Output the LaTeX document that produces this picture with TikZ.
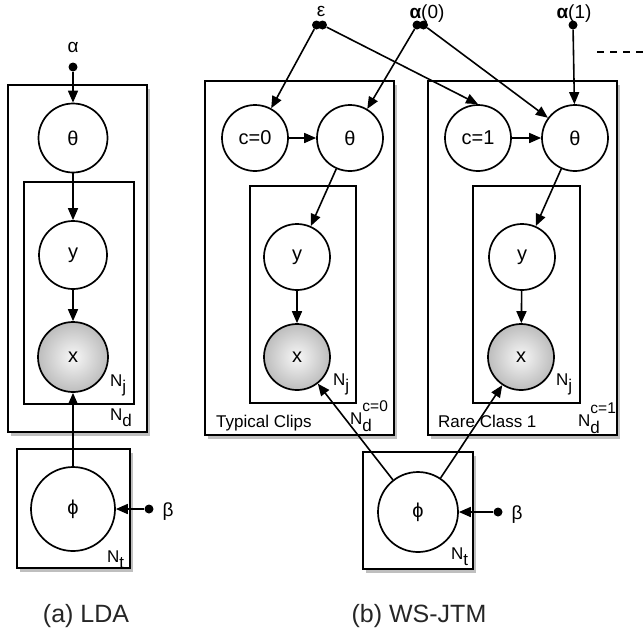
\documentclass[tikz,border=0pt]{standalone}
\usepackage{fontspec}
\setmainfont{Liberation Sans}
\usetikzlibrary{arrows.meta,shadows}
\newcommand\Nsb[1]{N\raisebox{-6pt}{#1}}
\newcommand\Nsbsp[2]{N\rlap{\raisebox{13pt}{\fontsize{15.5}{15.5}\selectfont #2}}\raisebox{-7pt}{#1}}
\begin{document}
\begin{tikzpicture}[x=1pt,y=-1pt,
  var/.style={circle,draw,line width=1.7pt,inner sep=0pt,fill=white,font=\fontsize{20}{20}\selectfont},
  obs/.style={circle,draw,line width=1.7pt,inner sep=0pt,shading=radial,inner color=gray!6,outer color=gray!52,font=\fontsize{20}{20}\selectfont},
  hyper/.style={circle,fill=black,inner sep=0pt,minimum size=9pt},
  plate/.style={draw,line width=1.6pt,fill=white,drop shadow={shadow xshift=2.5pt,shadow yshift=-4pt,opacity=0.5}},
  inplate/.style={draw,line width=1.6pt},
  edge/.style={-{Triangle[length=12pt,width=10pt]},line width=1.6pt},
  lbl/.style={inner sep=0pt,anchor=base west,font=\fontsize{17}{17}\selectfont},
  toplab/.style={inner sep=0pt,anchor=base,font=\fontsize{19}{19}\selectfont},
  captxt/.style={inner sep=0pt,anchor=base,text=black!85,font=\fontsize{25}{25}\selectfont}]
\fill[white] (0,0) rectangle (644,633);
\path[use as bounding box] (0,0) rectangle (644,633);

% ---------- (a) LDA ----------
\draw[plate] (8,85) rectangle (147,432);
\draw[inplate] (24,182) rectangle (134,404);
\draw[plate] (17,449) rectangle (130,568);
\node[toplab] (alpha) at (73,52) {α};
\node[hyper] (adot) at (73,67) {};
\node[var,minimum size=69pt] (th) at (73,138) {θ};
\node[var,minimum size=68pt] (y) at (73,255) {y};
\node[obs,minimum size=70pt] (x) at (73,357) {x};
\node[var,minimum size=84pt] (phi) at (73,509) {ϕ};
\node[hyper] (bdot) at (149,509) {};
\node[toplab] (beta) at (168,516) {β};
\node[lbl] (nj) at (110,386) {\Nsb{j}};
\node[lbl] (nd) at (110,420) {\Nsb{d}};
\node[lbl] (nt) at (107,562) {\Nsb{t}};
\draw[edge] (adot) -- (th);
\draw[edge] (th) -- (y);
\draw[edge] (y) -- (x);
\draw[edge] (phi) -- (x);
\draw[edge] (bdot) -- (phi);
\node[captxt] (capa) at (86,622) {(a) LDA};

% ---------- (b) WS-JTM ----------
\draw[plate] (205,81) rectangle (394,435);
\draw[inplate] (250,186) rectangle (356,403);
\draw[plate] (428,81) rectangle (617,435);
\draw[inplate] (473,186) rectangle (580,403);
\draw[plate] (363,452) rectangle (473,569);

\node[toplab] (eps) at (321,16) {ε};
\node[toplab] (a0lab) at (427,18) {\textbf{α}(0)};
\node[toplab] (a1lab) at (574,18) {\textbf{α}(1)};
\node[hyper] (epsl) at (316.5,25) {};
\node[hyper] (epsr) at (322.5,25) {};
\node[hyper] (a0l) at (417,25) {};
\node[hyper] (a0r) at (423.5,25) {};
\node[hyper] (a1) at (573,25) {};

\node[var,minimum size=66pt] (c0) at (255,138) {c=0};
\node[var,minimum size=66pt] (th0) at (350,138) {θ};
\node[var,minimum size=66pt] (y0) at (297,257) {y};
\node[obs,minimum size=66pt] (x0) at (297,357) {x};
\node[var,minimum size=66pt] (c1) at (478,138) {c=1};
\node[var,minimum size=66pt] (th1) at (575,138) {θ};
\node[var,minimum size=66pt] (y1) at (522,257) {y};
\node[obs,minimum size=66pt] (x1) at (521,357) {x};
\node[var,minimum size=80pt] (phib) at (418,512) {ϕ};
\node[hyper] (bdotb) at (498,512) {};
\node[toplab] (betab) at (517,519) {β};

\node[lbl] (tc) at (216,427) {Typical Clips};
\node[lbl] (rc) at (438,427) {Rare Class 1};
\node[lbl] (nj0) at (333,385) {\Nsb{j}};
\node[lbl] (nd0) at (350,424) {\Nsbsp{d}{c=0}};
\node[lbl] (nj1) at (556,385) {\Nsb{j}};
\node[lbl] (nd1) at (578,426) {\Nsbsp{d}{c=1}};
\node[lbl] (ntb) at (451,559) {\Nsb{t}};

\draw[edge] (epsl) -- (c0);
\draw[edge] (epsr) -- (c1.north);
\draw[edge] (a0l) -- (th0);
\draw[edge] (a0r) -- (th1);
\draw[edge] (a1) -- (th1);
\draw[edge] (c0) -- (th0);
\draw[edge] (c1) -- (th1);
\draw[edge] (th0) -- (y0);
\draw[edge] (th1) -- (y1);
\draw[edge] (y0) -- (x0);
\draw[edge] (y1) -- (x1);
\draw[edge] (phib) -- (x0);
\draw[edge] (phib) -- (x1);
\draw[edge] (bdotb) -- (phib);

\coordinate (dashs) at (597,52);
\coordinate (dashe) at (644,52);
\draw[line width=2.2pt,dash pattern=on 7pt off 6pt] (dashs) -- (dashe);

\node[captxt] (capb) at (419,622) {(b) WS-JTM};
\end{tikzpicture}
\end{document}
